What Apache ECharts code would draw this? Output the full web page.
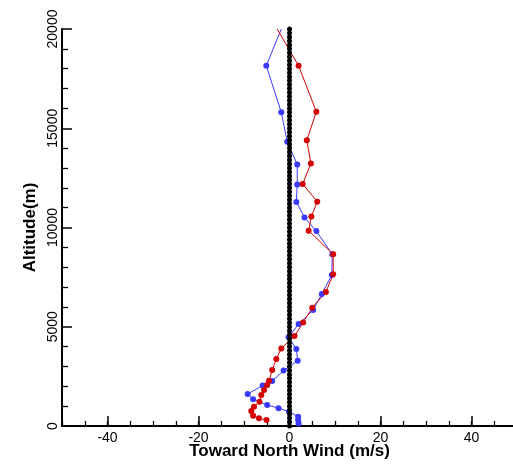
<!DOCTYPE html>
<html>
<head>
<meta charset="utf-8">
<script src="https://cdn.jsdelivr.net/npm/echarts@6/dist/echarts.min.js"></script>
<style>
html,body{margin:0;padding:0;background:#fff;}
#chart{width:513px;height:464px;}
</style>
</head>
<body>
<div id="chart"></div>
<script>
// Red profile: altitude (m) and wind (m/s)
const redAlt = [20000,18150,15830,14390,13230,12190,11300,10550,9840,8650,7640,6750,5960,5220,4530,3910,3375,2820,2280,2070,1810,1560,1220,970,760,520,390,300];
const redWind = [-2.7,2.0,5.9,3.8,4.7,2.9,6.1,4.8,4.2,9.6,9.6,8.0,5.0,3.0,1.1,-1.8,-2.9,-3.8,-4.5,-4.9,-5.6,-6.2,-6.6,-7.8,-8.4,-8.0,-6.7,-5.05];
// Blue profile
const blueAlt = [20000,18150,15800,14320,13180,12160,11290,10510,9820,8650,7610,6650,5840,5140,4470,3880,3290,2790,2270,2040,1610,1350,1060,900,720,470,300,130];
const blueWind = [-1.8,-5.1,-1.8,-0.5,1.7,1.7,1.5,3.3,5.9,9.4,9.3,7.1,5.2,2.0,-0.2,1.5,1.8,-1.3,-3.8,-5.9,-9.2,-8.0,-4.9,-2.4,-0.1,1.9,1.9,2.0];
// Black reference profile (zero wind)
const blackAlt = [0,200,400,600,800,1000,1200,1400,1600,1800,2000,2200,2400,2600,2800,3000,3200,3400,3600,3800,4000,4200,4400,4600,4800,5000,5200,5400,5600,5800,6000,6200,6400,6600,6800,7000,7200,7400,7600,7800,8000,8200,8400,8600,8800,9000,9200,9400,9600,9800,10000,10200,10400,10600,10800,11000,11200,11400,11600,11800,12000,12200,12400,12600,12800,13000,13200,13400,13600,13800,14000,14200,14400,14600,14800,15000,15200,15400,15600,15800,16000,16200,16400,16600,16800,17000,17200,17400,17600,17800,18000,18200,18400,18600,18800,19000,19200,19400,19600,19800,20000];
const blackWind = [0,0,0,0,0,0,0,0,0,0,0,0,0,0,0,0,0,0,0,0,0,0,0,0,0,0,0,0,0,0,0,0,0,0,0,0,0,0,0,0,0,0,0,0,0,0,0,0,0,0,0,0,0,0,0,0,0,0,0,0,0,0,0,0,0,0,0,0,0,0,0,0,0,0,0,0,0,0,0,0,0,0,0,0,0,0,0,0,0,0,0,0,0,0,0,0,0,0,0,0,0];
const xMajorTicks = [-40,-20,0,20,40];
const xTitle = 'Toward North Wind (m/s)';
const yTitle = 'Altitude(m)';

function pairs(xs, ys, hideFirst) {
  return xs.map((x, i) => {
    const d = {value: [x, ys[i]]};
    if (hideFirst && i === 0) d.symbol = 'none';
    return d;
  });
}

const FONT = 'Liberation Sans, Arial, sans-serif';
const chart = echarts.init(document.getElementById('chart'), null, {renderer: 'canvas'});
chart.setOption({
  animation: false,
  backgroundColor: '#ffffff',
  grid: {left: 62, top: 29, width: 455, height: 397, containLabel: false, outerBoundsMode: 'none'},
  xAxis: [{
    type: 'value', min: -50, max: 50, interval: 5,
    axisLine: {show: true, onZero: false, lineStyle: {color: '#000', width: 2}},
    axisTick: {show: true, inside: true, length: 5, lineStyle: {color: '#000', width: 1.3}},
    splitLine: {show: false},
    axisLabel: {
      show: true, interval: 0, margin: 5, color: '#000', fontSize: 14, fontFamily: FONT,
      formatter: v => (xMajorTicks.indexOf(v) >= 0 ? String(v) : '')
    },
    name: xTitle, nameLocation: 'middle', nameGap: 17, nameMoveOverlap: false,
    nameTextStyle: {color: '#000', fontSize: 17, fontWeight: 'bold', fontFamily: FONT}
  }, {
    type: 'value', min: -50, max: 50, position: 'bottom',
    axisLine: {show: false, onZero: false},
    axisTick: {show: true, inside: true, length: 10, customValues: xMajorTicks, lineStyle: {color: '#000', width: 1.5}},
    axisLabel: {show: false},
    splitLine: {show: false}
  }],
  yAxis: {
    type: 'value', min: 0, max: 20000, interval: 5000,
    axisLine: {show: true, onZero: false, lineStyle: {color: '#000', width: 2}},
    axisTick: {show: true, inside: true, length: 10, lineStyle: {color: '#000', width: 1.5}},
    minorTick: {show: true, splitNumber: 5, length: 6, lineStyle: {color: '#000', width: 1.3}},
    splitLine: {show: false},
    axisLabel: {show: true, rotate: 90, margin: 2, color: '#000', fontSize: 14, fontFamily: FONT,
      formatter: v => String(v)},
    name: yTitle, nameLocation: 'middle', nameGap: 23, nameRotate: 90, nameMoveOverlap: false,
    nameTextStyle: {color: '#000', fontSize: 17, fontWeight: 'bold', fontFamily: FONT}
  },
  series: [{
    type: 'line', name: 'blue', data: pairs(blueWind, blueAlt, true),
    symbol: 'circle', symbolSize: 6, showSymbol: true,
    itemStyle: {color: '#3a3aff'}, lineStyle: {color: '#3a3aff', width: 1}
  }, {
    type: 'line', name: 'red', data: pairs(redWind, redAlt, true),
    symbol: 'circle', symbolSize: 6, showSymbol: true,
    itemStyle: {color: '#d40000'}, lineStyle: {color: '#d40000', width: 1}
  }, {
    type: 'line', name: 'black', data: pairs(blackWind, blackAlt, false),
    symbol: 'circle', symbolSize: 5, showSymbol: true,
    itemStyle: {color: '#000'}, lineStyle: {color: '#000', width: 1}
  }]
});
</script>
</body>
</html>
